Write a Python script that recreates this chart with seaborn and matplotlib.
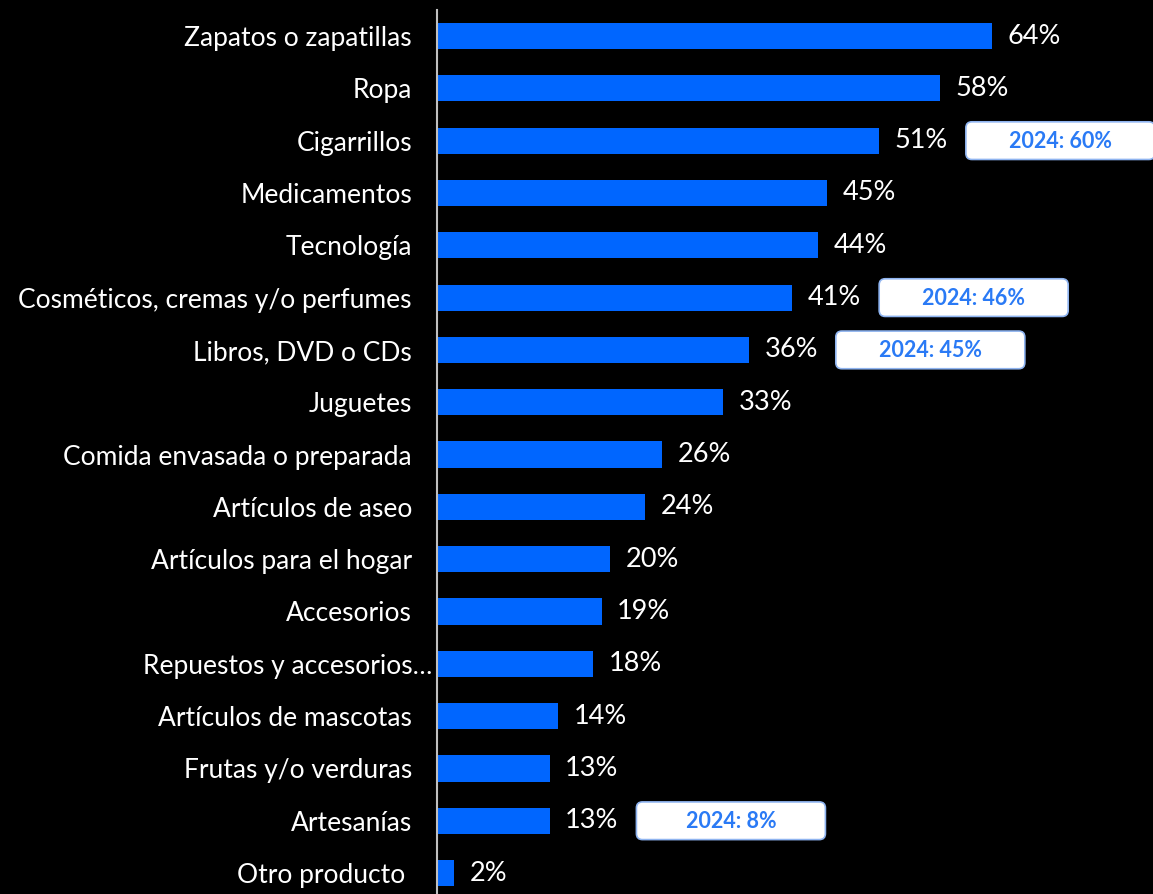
import matplotlib
matplotlib.use("Agg")
import matplotlib.pyplot as plt
import matplotlib.transforms as mtrans
import seaborn as sns
from matplotlib.patches import FancyBboxPatch

# ------------------------ datos ------------------------
categorias = [
    "Zapatos o zapatillas", "Ropa", "Cigarrillos", "Medicamentos", "Tecnología",
    "Cosméticos, cremas y/o perfumes", "Libros, DVD o CDs", "Juguetes",
    "Comida envasada o preparada", "Artículos de aseo", "Artículos para el hogar",
    "Accesorios", "Repuestos y accesorios…", "Artículos de mascotas",
    "Frutas y/o verduras", "Artesanías", "Otro producto",
]
valores = [64, 58, 51, 45, 44, 41, 36, 33, 26, 24, 20, 19, 18, 14, 13, 13, 2]

# comparaciones con 2024
notas_cat = ["Cigarrillos", "Cosméticos, cremas y/o perfumes", "Libros, DVD o CDs", "Artesanías"]
notas_2024 = [60, 46, 45, 8]

AZUL = "#0066FF"
AZUL_TXT = "#2A7AF5"

sns.set_theme(style="dark")
plt.rcParams["font.family"] = ["Lato", "DejaVu Sans"]

fig = plt.figure(figsize=(11.53, 8.94), dpi=100, facecolor="black")
ax = fig.add_axes([437 / 1153, 0.0, 1 - 437 / 1153, 1 - 9.85 / 894])
ax.set_facecolor("black")

sns.barplot(x=valores, y=categorias, orient="h", color=AZUL, saturation=1,
            width=0.5, linewidth=0, ax=ax)

ax.set_xlim(0, (1153 - 437) / 8.67)
ax.set_ylim(16.4, -0.5)
ax.grid(False)
for s in ["top", "right", "bottom"]:
    ax.spines[s].set_visible(False)
ax.spines["left"].set_color("#bfbfbf")
ax.spines["left"].set_linewidth(1.5)
ax.set_xticks([])
ax.set_xlabel("")
ax.set_ylabel("")
ax.tick_params(axis="y", length=0, pad=18, labelsize=19, labelcolor="white")

# pequeños desplazamientos de etiquetas como en el original
desplaz = {"Repuestos y accesorios…": 20 / 72, "Otro producto": -7 / 72}
for lab in ax.get_yticklabels():
    dx = desplaz.get(lab.get_text())
    if dx:
        lab.set_transform(lab.get_transform() +
                          mtrans.ScaledTranslation(dx * 0.72, 0, fig.dpi_scale_trans))

ax.bar_label(ax.containers[0], labels=[f"{v}%" for v in valores],
             padding=11, color="white", fontsize=19.5)

# cajas 2024
for cat, v24 in zip(notas_cat, notas_2024):
    i = categorias.index(cat)
    x0 = valores[i] + 10
    caja = FancyBboxPatch((x0, i - 0.36), 21.8, 0.72,
                          boxstyle="round,pad=0,rounding_size=0.7",
                          mutation_aspect=8.67 / 52.3,
                          facecolor="white", edgecolor="#8fb4f0", linewidth=1.2,
                          clip_on=False, zorder=3)
    ax.add_patch(caja)
    ax.text(x0 + 10.9, i + 0.02, f"2024: {v24}%", ha="center", va="center",
            color=AZUL_TXT, fontsize=15.5, fontweight="bold", zorder=4)

fig.savefig("out.png", dpi=100, facecolor="black")
